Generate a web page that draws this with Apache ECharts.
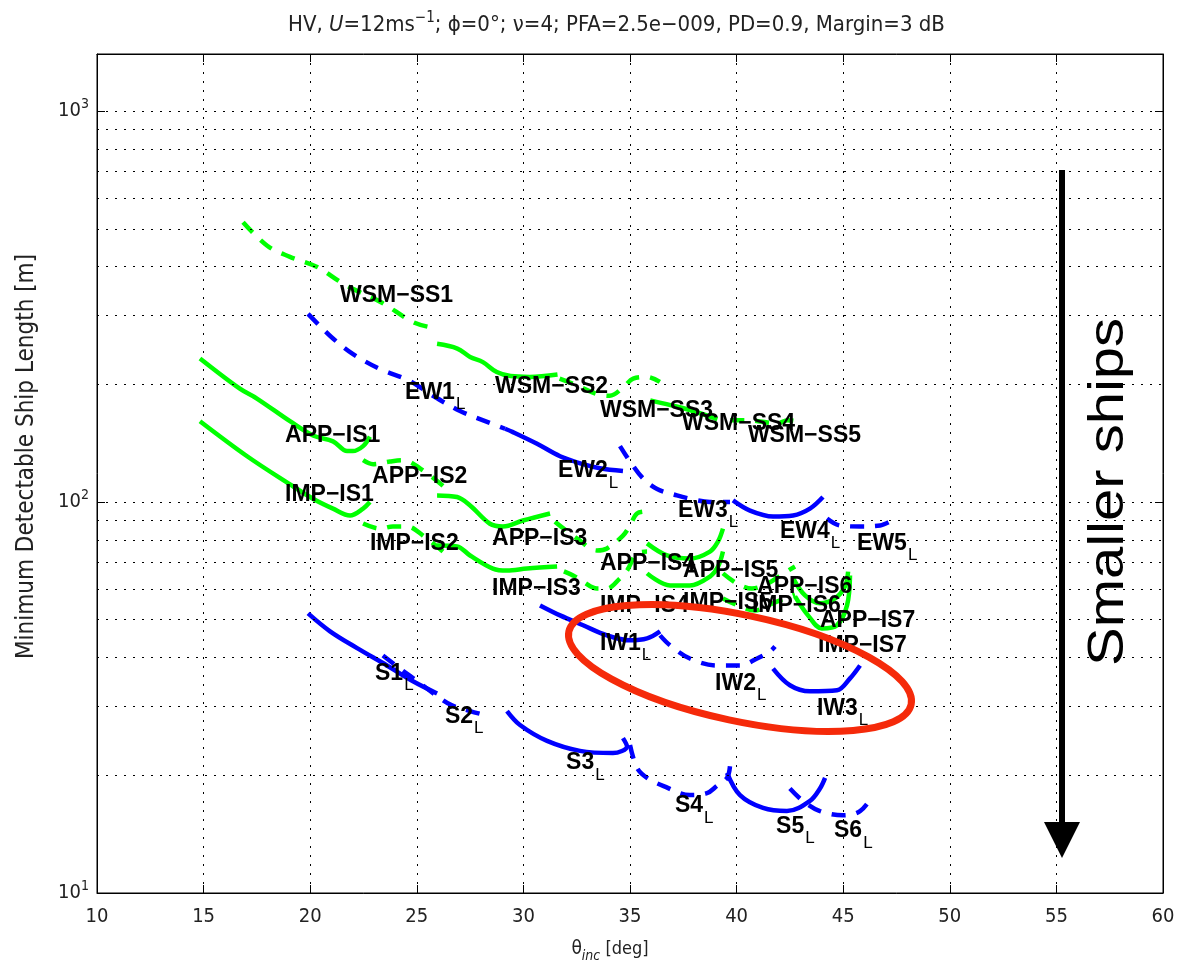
<!DOCTYPE html>
<html><head><meta charset="utf-8">
<script src="https://cdn.jsdelivr.net/npm/echarts@6/dist/echarts.min.js"></script>
<style>html,body{margin:0;padding:0;background:#fff}#c{width:1184px;height:968px}</style>
</head><body><div id="c"></div>
<script>
// ---------- axis settings ----------
const xMin = 10, xMax = 60, xStep = 5;
const yMin = 10, yMax = 1400;
const yMinorGrid = [20,30,40,50,60,70,80,90,200,300,400,500,600,700,800,900];

// ---------- curves: [incidence angle (deg), min detectable ship length (m)] ----------
// WSM (green)
const wsmSS1 = [[16.85,520],[18.0,452],[19.05,424],[20.3,400],[21.4,366],[22.0,351],[23.3,325],[24.8,289],[25.5,281]];
const wsmSS2 = [[25.95,254],[26.9,247],[27.5,235],[28.1,228],[28.75,215],[29.4,210],[30.3,209],[31.6,212]];
const wsmSS3 = [[31.7,207],[32.3,201],[33.45,189],[34.05,187],[34.7,197],[35.15,207],[35.8,209],[36.4,203]];
const wsmSS4 = [[35.95,182],[36.9,177],[37.8,172],[39.1,163]];
const wsmSS5 = [[39.7,162],[40.5,162],[41.9,159],[42.4,162],[43.0,160]];
// APP / IMP (green)
const appIS1 = [[14.83,233],[16.7,195],[17.5,184],[19.05,161],[20.13,148],[21.07,143],[21.73,135],[22.0,135],[22.48,139],[22.8,147]];
const appIS2 = [[22.48,128],[22.95,125],[23.74,127],[24.35,128],[25.15,122],[26.23,110]];
const appIS3 = [[25.95,104],[26.89,103],[27.5,98],[28.43,88],[29.04,86.6],[29.98,89.7],[31.25,93.5]];
const appIS4 = [[31.48,89.1],[32.51,80.7],[33.45,75.2],[33.92,76.1],[34.67,82.1],[35.0,87.1],[35.33,93.5],[35.8,94.6]];
const appIS5 = [[35.8,78.4],[36.74,73.0],[37.81,71.7],[38.75,74.7],[39.13,79.3],[39.36,85.5]];
const appIS6 = [[39.36,65.7],[40.02,61.9],[40.72,60.1],[41.47,61.9],[42.13,65.3],[42.74,68.4]];
const appIS7 = [[42.65,63.8],[43.21,57.7],[43.91,55.1],[44.62,56.7],[45.08,60.8],[45.23,66.4]];
const impIS1 = [[14.83,161],[17.04,131],[19.05,111],[20.13,102],[21.07,96.2],[21.87,92.4],[22.48,96.2],[22.8,100]];
const impIS2 = [[22.48,88.1],[23.27,85.5],[23.88,86.6],[24.54,86.6],[25.29,82.1],[26.23,74.7]];
const impIS3 = [[25.95,77.4],[26.89,77.0],[27.5,73.0],[28.57,67.6],[29.23,66.8],[30.17,67.6],[31.58,68.4]];
const impIS4 = [[31.9,66.5],[32.33,64.9],[32.8,62.6],[33.45,60.1],[33.92,60.1],[34.53,63.8],[34.86,66.8],[35.33,73.9],[35.8,74.7]];
const impIS5 = [[35.8,65.7],[36.88,61.2],[37.81,61.2],[38.75,64.5],[39.13,68.4],[39.36,74.7]];
const impIS6 = [[39.36,56.7],[40.16,54.1],[40.86,52.8],[41.57,54.7],[42.27,56.7],[42.74,58.0]];
const impIS7 = [[42.74,57.4],[43.35,51.3],[44.0,47.5],[44.71,48.4],[45.18,54.4],[45.32,64.9]];
// EW / IW / S (blue)
const ew1 = [[19.9,303],[20.46,282],[21.07,262],[22.01,239],[23.27,219],[24.68,204],[25.76,187],[27.03,171],[27.96,163],[29.14,154]];
const ew2 = [[29.14,154],[29.51,151],[30.64,141],[31.72,131],[32.8,125],[33.59,122],[34.67,120]];
const ew3 = [[34.53,139],[35.0,127],[35.61,115],[36.27,108],[37.2,104],[37.81,102],[38.75,100],[39.69,100]];
const ew4 = [[39.83,101],[40.63,95.1],[41.71,91.8],[42.65,92.4],[43.44,96.2],[44.05,103]];
const ew5 = [[44.24,90.8],[44.85,87.1],[45.79,86.6],[46.73,87.1],[47.19,89.1]];
const iw1 = [[30.78,54.4],[31.72,51.3],[32.8,48.4],[33.92,45.6],[35.0,44.3],[35.8,44.8],[36.41,46.7]];
const iw2 = [[36.41,45.6],[36.88,43.0],[37.81,39.8],[39.08,38.2],[40.16,38.2],[40.96,39.8],[41.57,41.5],[41.8,42.7]];
const iw3 = [[41.71,37.5],[42.5,34.0],[43.44,32.8],[44.71,33.0],[45.32,35.4],[45.79,38.2]];
const s1 = [[19.9,51.9],[20.93,46.7],[22.2,42.3],[23.6,38.2],[24.82,34.8],[25.95,32.4]];
const s2 = [[23.41,40.5],[24.21,37.5],[25.15,34.4],[26.09,31.5],[26.65,30.2],[27.5,29.2],[28.43,28.3]];
const s3 = [[29.23,29.2],[29.84,26.9],[31.11,24.5],[32.65,23.1],[34.2,22.8],[34.86,23.7],[34.67,24.9]];
const s4 = [[35.0,23.9],[35.33,20.9],[35.8,19.7],[36.55,18.8],[37.81,17.8],[38.61,18.0],[39.08,18.8],[39.55,19.7],[39.69,21.1]];
const s5 = [[39.55,20.3],[40.16,17.8],[41.24,16.5],[42.36,16.2],[43.44,17.2],[43.91,18.5],[44.15,19.7]];
const s6 = [[42.5,18.5],[43.11,17.2],[43.91,16.2],[44.99,15.8],[45.79,16.2],[46.4,17.8]];

// ---------- curve labels ----------
const labelNames  = ['WSM−SS1','WSM−SS2','WSM−SS3','WSM−SS4','WSM−SS5','EW1','EW2','EW3','EW4','EW5',
  'APP−IS1','APP−IS2','APP−IS3','APP−IS4','APP−IS5','APP−IS6','APP−IS7',
  'IMP−IS1','IMP−IS2','IMP−IS3','IMP−IS4','IMP−IS5','IMP−IS6','IMP−IS7',
  'IW1','IW2','IW3','S1','S2','S3','S4','S5','S6'];
const labelTheta  = [21.40,28.67,33.59,37.44,40.53,24.45,31.62,37.25,42.03,45.65,
  18.82,22.90,28.53,33.59,37.49,40.96,43.91,
  18.82,22.80,28.53,33.59,37.49,40.72,43.82,
  33.59,38.99,43.77,23.04,26.32,32.0,37.11,41.85,44.57];
const labelLength = [337,197,171,159,148,191,120,95.1,84.1,78.4,
  148,116,80.7,69.7,66.8,60.8,49.8,
  104.5,78.4,60.1,54.4,55.4,54.4,43.0,
  43.5,34.4,29.7,36.5,28.3,21.5,16.7,14.8,14.4];
const labelSubL   = [0,0,0,0,0,1,1,1,1,1, 0,0,0,0,0,0,0, 0,0,0,0,0,0,0, 1,1,1,1,1,1,1,1,1];

// ---------- styling (kept apart from the data) ----------
const GREEN = '#00ff00', BLUE = '#0000ff';
const curves = [
  [wsmSS1,GREEN,1],[wsmSS2,GREEN,0],[wsmSS3,GREEN,1],[wsmSS4,GREEN,0],[wsmSS5,GREEN,1],
  [appIS1,GREEN,0],[appIS2,GREEN,1],[appIS3,GREEN,0],[appIS4,GREEN,1],[appIS5,GREEN,0],[appIS6,GREEN,1],[appIS7,GREEN,0],
  [impIS1,GREEN,0],[impIS2,GREEN,1],[impIS3,GREEN,0],[impIS4,GREEN,1],[impIS5,GREEN,0],[impIS6,GREEN,1],[impIS7,GREEN,0],
  [ew1,BLUE,1],[ew2,BLUE,0],[ew3,BLUE,1],[ew4,BLUE,0],[ew5,BLUE,1],
  [iw1,BLUE,0],[iw2,BLUE,1],[iw3,BLUE,0],
  [s1,BLUE,0],[s2,BLUE,1],[s3,BLUE,0],[s4,BLUE,1],[s5,BLUE,0],[s6,BLUE,1]
];
const FONT = 'Liberation Sans, Arial, Helvetica, sans-serif';
const NARROW = 'Liberation Sans Narrow, DejaVu Sans Condensed, Liberation Sans, Arial, sans-serif';
const dotted = {type:[2,7], color:'#000', width:1};

const series = curves.map((c, i) => ({
  type:'line', data:c[0], symbol:'none', showSymbol:false, smooth:0.35, silent:true,
  lineStyle:{color:c[1], width:4.5, type:c[2] ? [14,11] : 'solid', cap:'butt'}, z:3,
  markLine: i === 0 ? {silent:true, symbol:'none', label:{show:false}, lineStyle:dotted,
    data: yMinorGrid.map(v => ({yAxis:v}))} : undefined
}));

series.push({
  type:'scatter', symbolSize:0, silent:true, z:6,
  itemStyle:{color:'#000', opacity:1},
  data: labelNames.map((n,i) => [labelTheta[i], labelLength[i], n, labelSubL[i]]),
  label:{show:true, position:'right', distance:0, color:'#000', opacity:1, textBorderWidth:0,
    formatter: p => p.data[3] ? '{m|' + p.data[2] + '}{s|L}' : '{m|' + p.data[2] + '}',
    rich:{
      m:{fontSize:23, fontWeight:'bold', fontFamily:FONT, color:'#000', lineHeight:26},
      s:{fontSize:17, fontWeight:'normal', fontFamily:FONT, color:'#000', padding:[24,0,0,1]}
    }}
});

const chart = echarts.init(document.getElementById('c'), null, {renderer:'canvas'});
chart.setOption({
  animation:false,
  backgroundColor:'#fff',
  title:{
    text:'HV, {i|U}=12ms{sup|−1}; ϕ=0°; ν=4; PFA=2.5e−009, PD=0.9, Margin=3 dB',
    left:283, top:6,
    textStyle:{fontSize:22, fontWeight:'normal', fontFamily:NARROW, color:'#222',
      rich:{
        i:{fontSize:22, fontStyle:'italic', fontFamily:NARROW, color:'#222'},
        sup:{fontSize:15, fontFamily:NARROW, color:'#222', padding:[0,0,14,0]}
      }}
  },
  grid:{left:97, right:21, top:54, bottom:73, show:true, borderColor:'#000', borderWidth:1, containLabel:false},
  xAxis:[{
    type:'value', min:xMin, max:xMax, interval:xStep, position:'bottom',
    axisLine:{show:true, lineStyle:{color:'#000'}},
    axisTick:{inside:true, length:8, lineStyle:{color:'#000'}},
    axisLabel:{fontSize:20, color:'#222', fontFamily:NARROW, margin:14},
    splitLine:{show:true, lineStyle:dotted},
    name:'{t|θ}{s|inc} [deg]', nameLocation:'middle', nameGap:42,
    nameTextStyle:{fontSize:18, color:'#222', fontFamily:NARROW, padding:[0,40,0,0],
      rich:{t:{fontSize:19, fontFamily:NARROW, color:'#222'},
            s:{fontSize:14, fontStyle:'italic', fontFamily:NARROW, color:'#222', padding:[14,0,0,0]}}}
  },{
    type:'value', min:xMin, max:xMax, interval:xStep, position:'top',
    axisLine:{show:true, lineStyle:{color:'#000'}},
    axisTick:{inside:true, length:8, lineStyle:{color:'#000'}},
    axisLabel:{show:false}, splitLine:{show:false}
  }],
  yAxis:[{
    type:'log', logBase:10, min:yMin, max:yMax, position:'left',
    axisLine:{show:true, lineStyle:{color:'#000'}},
    axisTick:{inside:true, length:8, lineStyle:{color:'#000'}},
    axisLabel:{color:'#222', fontFamily:NARROW, fontSize:20, margin:8,
      formatter: v => { const e = Math.round(Math.log10(v)); return Math.abs(v / Math.pow(10,e) - 1) < 1e-6 ? '10{sup|' + e + '}' : ''; },
      rich:{sup:{fontSize:14, fontFamily:NARROW, color:'#222', padding:[0,0,14,0]}}},
    splitLine:{show:true, lineStyle:dotted},
    name:'Minimum Detectable Ship Length [m]', nameLocation:'middle', nameGap:58, nameRotate:90,
    nameTextStyle:{fontSize:24, color:'#222', fontFamily:NARROW, padding:[0,0,0,34]}
  },{
    type:'log', logBase:10, min:yMin, max:yMax, position:'right',
    axisLine:{show:true, lineStyle:{color:'#000'}},
    axisTick:{inside:true, length:8, lineStyle:{color:'#000'}},
    axisLabel:{show:false}, splitLine:{show:false}
  }],
  series: series,
  graphic:[
    {type:'ellipse', x:740, y:668, rotation:-0.21, shape:{cx:0, cy:0, rx:175, ry:53},
      style:{fill:null, stroke:'#f52a0a', lineWidth:7}, z:10, silent:true},
    {type:'line', shape:{x1:1062, y1:170, x2:1062, y2:828}, style:{stroke:'#000', lineWidth:6}, z:10, silent:true},
    {type:'polygon', shape:{points:[[1044,822],[1080,822],[1062,858]]}, style:{fill:'#000'}, z:10, silent:true},
    {type:'text', x:1109, y:492, rotation:Math.PI/2, scaleX:1.16,
      style:{text:'Smaller ships', fontSize:50, fontFamily:FONT, fill:'#000', align:'center', verticalAlign:'middle'}, z:10, silent:true}
  ]
});
</script>
</body></html>
